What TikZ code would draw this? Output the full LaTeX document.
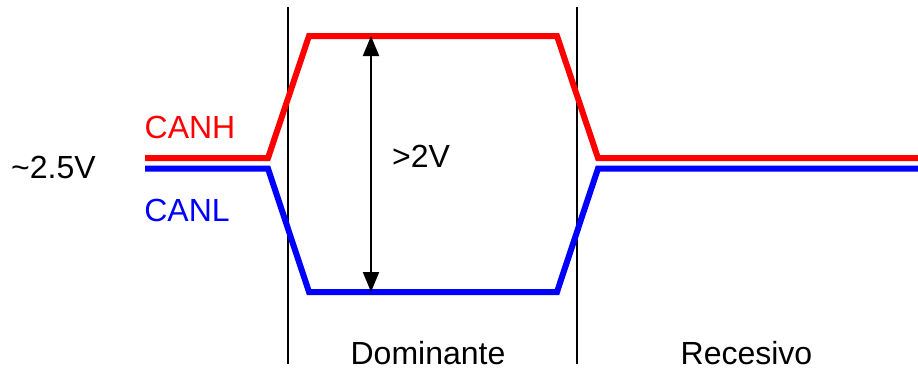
\documentclass[tikz,border=0pt]{standalone}
\usepackage{fontspec}
\setmainfont{Liberation Sans}
\usepackage{xcolor}
\usetikzlibrary{arrows.meta}
\definecolor{canh}{HTML}{FF0000}
\definecolor{canl}{HTML}{0000FF}

\begin{document}
\begin{tikzpicture}[x=0.75pt,y=-0.75pt,line cap=butt,line join=miter,
    signal/.style={line width=4.5pt},
    divider/.style={black,line width=1.6pt},
    label/.style={inner sep=0pt,font=\fontsize{24}{28}\selectfont}]
  \useasboundingbox (0,0) rectangle (918,372);

  % Bit period boundaries.
  \draw[divider] (288,7) -- (288,364);
  \draw[divider] (577,7) -- (577,364);

  % Differential pair: recessive, dominant, recessive.
  \draw[signal,canh] (145,158) -- (268,158) -- (309,36) -- (557,36)
    -- (598,158) -- (918,158);
  \draw[signal,canl] (145,168.5) -- (268,168.5) -- (309,292) -- (557,292)
    -- (598,168.5) -- (918,168.5);

  % Differential voltage span.
  \coordinate (top) at (371,36);
  \coordinate (bottom) at (371,292);
  \draw[black,line width=1.5pt,{Triangle[length=15pt,width=12pt]}-{Triangle[length=15pt,width=12pt]}]
    (bottom) -- (top);

  % Labels.
  \node[label] (bias) at (53.5,167.5) {\textasciitilde2.5V};
  \node[label,text=canh] (hlabel) at (190,127) {CANH};
  \node[label,text=canl] (llabel) at (187,210) {CANL};
  \node[label] (span) at (421,156) {>2V};
  \node[label] (dom) at (428,353.5) {Dominante};
  \node[label] (rec) at (746.5,353.5) {Recesivo};
\end{tikzpicture}
\end{document}
